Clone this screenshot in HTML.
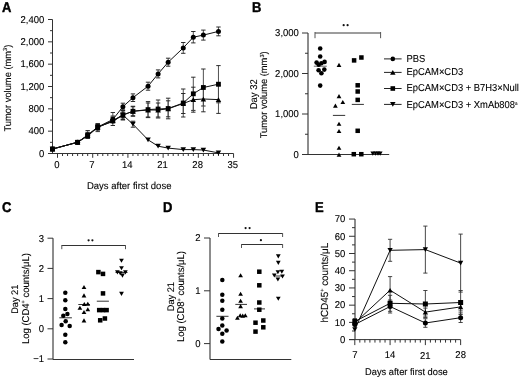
<!DOCTYPE html>
<html><head><meta charset="utf-8"><style>
html,body{margin:0;padding:0;background:#fff;}
body{width:520px;height:377px;overflow:hidden;}
svg{display:block;will-change:transform;font-family:"Liberation Sans",sans-serif;fill:#000;}
text{stroke:#000;stroke-width:0.1px;text-rendering:geometricPrecision;}
</style></head><body>
<svg width="520" height="377" viewBox="0 0 520 377">
<rect width="520" height="377" fill="#fff"/>
<text transform="translate(2,11.8) scale(1,1.09)" text-anchor="start" font-size="13" font-weight="bold" style="stroke-width:0.4px">A</text>
<line x1="52.5" y1="19.5" x2="52.5" y2="153.5" stroke="#333" stroke-width="1"/>
<line x1="48" y1="153.5" x2="52.5" y2="153.5" stroke="#333" stroke-width="1"/>
<text transform="translate(44.3,156.8) scale(1,1.04)" text-anchor="end" font-size="9.5" font-weight="normal" >0</text>
<line x1="50" y1="142.33333333333334" x2="52.5" y2="142.33333333333334" stroke="#333" stroke-width="1"/>
<line x1="48" y1="131.16666666666666" x2="52.5" y2="131.16666666666666" stroke="#333" stroke-width="1"/>
<text transform="translate(44.3,134.46666666666667) scale(1,1.04)" text-anchor="end" font-size="9.5" font-weight="normal" >400</text>
<line x1="50" y1="120.0" x2="52.5" y2="120.0" stroke="#333" stroke-width="1"/>
<line x1="48" y1="108.83333333333334" x2="52.5" y2="108.83333333333334" stroke="#333" stroke-width="1"/>
<text transform="translate(44.3,112.13333333333334) scale(1,1.04)" text-anchor="end" font-size="9.5" font-weight="normal" >800</text>
<line x1="50" y1="97.66666666666666" x2="52.5" y2="97.66666666666666" stroke="#333" stroke-width="1"/>
<line x1="48" y1="86.5" x2="52.5" y2="86.5" stroke="#333" stroke-width="1"/>
<text transform="translate(44.3,89.8) scale(1,1.04)" text-anchor="end" font-size="9.5" font-weight="normal" >1,200</text>
<line x1="50" y1="75.33333333333333" x2="52.5" y2="75.33333333333333" stroke="#333" stroke-width="1"/>
<line x1="48" y1="64.16666666666667" x2="52.5" y2="64.16666666666667" stroke="#333" stroke-width="1"/>
<text transform="translate(44.3,67.46666666666667) scale(1,1.04)" text-anchor="end" font-size="9.5" font-weight="normal" >1,600</text>
<line x1="50" y1="53.0" x2="52.5" y2="53.0" stroke="#333" stroke-width="1"/>
<line x1="48" y1="41.83333333333333" x2="52.5" y2="41.83333333333333" stroke="#333" stroke-width="1"/>
<text transform="translate(44.3,45.133333333333326) scale(1,1.04)" text-anchor="end" font-size="9.5" font-weight="normal" >2,000</text>
<line x1="50" y1="30.66666666666667" x2="52.5" y2="30.66666666666667" stroke="#333" stroke-width="1"/>
<line x1="48" y1="19.5" x2="52.5" y2="19.5" stroke="#333" stroke-width="1"/>
<text transform="translate(44.3,22.8) scale(1,1.04)" text-anchor="end" font-size="9.5" font-weight="normal" >2,400</text>
<line x1="48" y1="153.5" x2="233.55" y2="153.5" stroke="#333" stroke-width="1"/>
<line x1="57.5" y1="153.5" x2="57.5" y2="157.8" stroke="#333" stroke-width="1"/>
<text transform="translate(56.8,168.4) scale(1,1.04)" text-anchor="middle" font-size="9.5" font-weight="normal" >0</text>
<line x1="62.53" y1="153.5" x2="62.53" y2="156.0" stroke="#333" stroke-width="1"/>
<line x1="67.56" y1="153.5" x2="67.56" y2="156.0" stroke="#333" stroke-width="1"/>
<line x1="72.59" y1="153.5" x2="72.59" y2="156.0" stroke="#333" stroke-width="1"/>
<line x1="77.62" y1="153.5" x2="77.62" y2="156.0" stroke="#333" stroke-width="1"/>
<line x1="82.65" y1="153.5" x2="82.65" y2="156.0" stroke="#333" stroke-width="1"/>
<line x1="87.68" y1="153.5" x2="87.68" y2="156.0" stroke="#333" stroke-width="1"/>
<line x1="92.71000000000001" y1="153.5" x2="92.71000000000001" y2="157.8" stroke="#333" stroke-width="1"/>
<text transform="translate(92.01,168.4) scale(1,1.04)" text-anchor="middle" font-size="9.5" font-weight="normal" >7</text>
<line x1="97.74000000000001" y1="153.5" x2="97.74000000000001" y2="156.0" stroke="#333" stroke-width="1"/>
<line x1="102.77000000000001" y1="153.5" x2="102.77000000000001" y2="156.0" stroke="#333" stroke-width="1"/>
<line x1="107.80000000000001" y1="153.5" x2="107.80000000000001" y2="156.0" stroke="#333" stroke-width="1"/>
<line x1="112.83000000000001" y1="153.5" x2="112.83000000000001" y2="156.0" stroke="#333" stroke-width="1"/>
<line x1="117.86" y1="153.5" x2="117.86" y2="156.0" stroke="#333" stroke-width="1"/>
<line x1="122.89" y1="153.5" x2="122.89" y2="156.0" stroke="#333" stroke-width="1"/>
<line x1="127.92" y1="153.5" x2="127.92" y2="157.8" stroke="#333" stroke-width="1"/>
<text transform="translate(127.22,168.4) scale(1,1.04)" text-anchor="middle" font-size="9.5" font-weight="normal" >14</text>
<line x1="132.95" y1="153.5" x2="132.95" y2="156.0" stroke="#333" stroke-width="1"/>
<line x1="137.98000000000002" y1="153.5" x2="137.98000000000002" y2="156.0" stroke="#333" stroke-width="1"/>
<line x1="143.01" y1="153.5" x2="143.01" y2="156.0" stroke="#333" stroke-width="1"/>
<line x1="148.04000000000002" y1="153.5" x2="148.04000000000002" y2="156.0" stroke="#333" stroke-width="1"/>
<line x1="153.07" y1="153.5" x2="153.07" y2="156.0" stroke="#333" stroke-width="1"/>
<line x1="158.10000000000002" y1="153.5" x2="158.10000000000002" y2="156.0" stroke="#333" stroke-width="1"/>
<line x1="163.13" y1="153.5" x2="163.13" y2="157.8" stroke="#333" stroke-width="1"/>
<text transform="translate(162.43,168.4) scale(1,1.04)" text-anchor="middle" font-size="9.5" font-weight="normal" >21</text>
<line x1="168.16000000000003" y1="153.5" x2="168.16000000000003" y2="156.0" stroke="#333" stroke-width="1"/>
<line x1="173.19" y1="153.5" x2="173.19" y2="156.0" stroke="#333" stroke-width="1"/>
<line x1="178.22" y1="153.5" x2="178.22" y2="156.0" stroke="#333" stroke-width="1"/>
<line x1="183.25" y1="153.5" x2="183.25" y2="156.0" stroke="#333" stroke-width="1"/>
<line x1="188.28" y1="153.5" x2="188.28" y2="156.0" stroke="#333" stroke-width="1"/>
<line x1="193.31" y1="153.5" x2="193.31" y2="156.0" stroke="#333" stroke-width="1"/>
<line x1="198.34" y1="153.5" x2="198.34" y2="157.8" stroke="#333" stroke-width="1"/>
<text transform="translate(197.64000000000001,168.4) scale(1,1.04)" text-anchor="middle" font-size="9.5" font-weight="normal" >28</text>
<line x1="203.37" y1="153.5" x2="203.37" y2="156.0" stroke="#333" stroke-width="1"/>
<line x1="208.4" y1="153.5" x2="208.4" y2="156.0" stroke="#333" stroke-width="1"/>
<line x1="213.43" y1="153.5" x2="213.43" y2="156.0" stroke="#333" stroke-width="1"/>
<line x1="218.46" y1="153.5" x2="218.46" y2="156.0" stroke="#333" stroke-width="1"/>
<line x1="223.49" y1="153.5" x2="223.49" y2="156.0" stroke="#333" stroke-width="1"/>
<line x1="228.52" y1="153.5" x2="228.52" y2="156.0" stroke="#333" stroke-width="1"/>
<line x1="233.55" y1="153.5" x2="233.55" y2="157.8" stroke="#333" stroke-width="1"/>
<text transform="translate(232.85000000000002,168.4) scale(1,1.04)" text-anchor="middle" font-size="9.5" font-weight="normal" >35</text>
<text transform="translate(129.2,189.4) scale(1,1.04)" text-anchor="middle" font-size="9.5" font-weight="normal" >Days after first dose</text>
<text transform="translate(10.6,88.1) rotate(-90) scale(1,1.04)" text-anchor="middle" font-size="9.35">Tumor volume (mm<tspan font-size="5.6" dy="-3">3</tspan><tspan dy="3">)</tspan></text>
<line x1="112.83000000000001" y1="117.0" x2="112.83000000000001" y2="122.0" stroke="#484848" stroke-width="0.95"/>
<line x1="110.63000000000001" y1="117.0" x2="115.03000000000002" y2="117.0" stroke="#222" stroke-width="0.95"/>
<line x1="110.63000000000001" y1="122.0" x2="115.03000000000002" y2="122.0" stroke="#222" stroke-width="0.95"/>
<line x1="122.89" y1="103.2" x2="122.89" y2="110.2" stroke="#484848" stroke-width="0.95"/>
<line x1="120.69" y1="103.2" x2="125.09" y2="103.2" stroke="#222" stroke-width="0.95"/>
<line x1="120.69" y1="110.2" x2="125.09" y2="110.2" stroke="#222" stroke-width="0.95"/>
<line x1="132.95" y1="93.9" x2="132.95" y2="101.5" stroke="#484848" stroke-width="0.95"/>
<line x1="130.75" y1="93.9" x2="135.14999999999998" y2="93.9" stroke="#222" stroke-width="0.95"/>
<line x1="130.75" y1="101.5" x2="135.14999999999998" y2="101.5" stroke="#222" stroke-width="0.95"/>
<line x1="148.04000000000002" y1="82.2" x2="148.04000000000002" y2="90.2" stroke="#484848" stroke-width="0.95"/>
<line x1="145.84000000000003" y1="82.2" x2="150.24" y2="82.2" stroke="#222" stroke-width="0.95"/>
<line x1="145.84000000000003" y1="90.2" x2="150.24" y2="90.2" stroke="#222" stroke-width="0.95"/>
<line x1="158.10000000000002" y1="69.9" x2="158.10000000000002" y2="77.9" stroke="#484848" stroke-width="0.95"/>
<line x1="155.90000000000003" y1="69.9" x2="160.3" y2="69.9" stroke="#222" stroke-width="0.95"/>
<line x1="155.90000000000003" y1="77.9" x2="160.3" y2="77.9" stroke="#222" stroke-width="0.95"/>
<line x1="168.16000000000003" y1="58.2" x2="168.16000000000003" y2="66.2" stroke="#484848" stroke-width="0.95"/>
<line x1="165.96000000000004" y1="58.2" x2="170.36" y2="58.2" stroke="#222" stroke-width="0.95"/>
<line x1="165.96000000000004" y1="66.2" x2="170.36" y2="66.2" stroke="#222" stroke-width="0.95"/>
<line x1="183.25" y1="42.5" x2="183.25" y2="53.3" stroke="#484848" stroke-width="0.95"/>
<line x1="181.05" y1="42.5" x2="185.45" y2="42.5" stroke="#222" stroke-width="0.95"/>
<line x1="181.05" y1="53.3" x2="185.45" y2="53.3" stroke="#222" stroke-width="0.95"/>
<line x1="193.31" y1="31.500000000000004" x2="193.31" y2="42.900000000000006" stroke="#484848" stroke-width="0.95"/>
<line x1="191.11" y1="31.500000000000004" x2="195.51" y2="31.500000000000004" stroke="#222" stroke-width="0.95"/>
<line x1="191.11" y1="42.900000000000006" x2="195.51" y2="42.900000000000006" stroke="#222" stroke-width="0.95"/>
<line x1="203.37" y1="30.1" x2="203.37" y2="40.1" stroke="#484848" stroke-width="0.95"/>
<line x1="201.17000000000002" y1="30.1" x2="205.57" y2="30.1" stroke="#222" stroke-width="0.95"/>
<line x1="201.17000000000002" y1="40.1" x2="205.57" y2="40.1" stroke="#222" stroke-width="0.95"/>
<line x1="218.46" y1="27.0" x2="218.46" y2="35.8" stroke="#484848" stroke-width="0.95"/>
<line x1="216.26000000000002" y1="27.0" x2="220.66" y2="27.0" stroke="#222" stroke-width="0.95"/>
<line x1="216.26000000000002" y1="35.8" x2="220.66" y2="35.8" stroke="#222" stroke-width="0.95"/>
<line x1="87.68" y1="130.5" x2="87.68" y2="138.0" stroke="#484848" stroke-width="0.95"/>
<line x1="85.48" y1="130.5" x2="89.88000000000001" y2="130.5" stroke="#2a2a2a" stroke-width="0.95"/>
<line x1="97.74000000000001" y1="123.5" x2="97.74000000000001" y2="131.6" stroke="#484848" stroke-width="0.95"/>
<line x1="95.54" y1="123.5" x2="99.94000000000001" y2="123.5" stroke="#2a2a2a" stroke-width="0.95"/>
<line x1="95.54" y1="131.6" x2="99.94000000000001" y2="131.6" stroke="#2a2a2a" stroke-width="0.95"/>
<line x1="112.83000000000001" y1="116.0" x2="112.83000000000001" y2="123.0" stroke="#484848" stroke-width="0.95"/>
<line x1="110.63000000000001" y1="116.0" x2="115.03000000000002" y2="116.0" stroke="#2a2a2a" stroke-width="0.95"/>
<line x1="122.89" y1="110" x2="122.89" y2="120" stroke="#484848" stroke-width="0.95"/>
<line x1="120.69" y1="110" x2="125.09" y2="110" stroke="#222" stroke-width="0.95"/>
<line x1="120.69" y1="120" x2="125.09" y2="120" stroke="#222" stroke-width="0.95"/>
<line x1="132.95" y1="106.25" x2="132.95" y2="116.25" stroke="#484848" stroke-width="0.95"/>
<line x1="130.75" y1="106.25" x2="135.14999999999998" y2="106.25" stroke="#222" stroke-width="0.95"/>
<line x1="130.75" y1="116.25" x2="135.14999999999998" y2="116.25" stroke="#222" stroke-width="0.95"/>
<line x1="148.04000000000002" y1="101.6" x2="148.04000000000002" y2="117.6" stroke="#484848" stroke-width="0.95"/>
<line x1="145.84000000000003" y1="101.6" x2="150.24" y2="101.6" stroke="#222" stroke-width="0.95"/>
<line x1="145.84000000000003" y1="117.6" x2="150.24" y2="117.6" stroke="#222" stroke-width="0.95"/>
<line x1="158.10000000000002" y1="100" x2="158.10000000000002" y2="118" stroke="#484848" stroke-width="0.95"/>
<line x1="155.90000000000003" y1="100" x2="160.3" y2="100" stroke="#222" stroke-width="0.95"/>
<line x1="155.90000000000003" y1="118" x2="160.3" y2="118" stroke="#222" stroke-width="0.95"/>
<line x1="168.16000000000003" y1="98.2" x2="168.16000000000003" y2="118.8" stroke="#484848" stroke-width="0.95"/>
<line x1="165.96000000000004" y1="98.2" x2="170.36" y2="98.2" stroke="#222" stroke-width="0.95"/>
<line x1="165.96000000000004" y1="118.8" x2="170.36" y2="118.8" stroke="#222" stroke-width="0.95"/>
<line x1="183.25" y1="89" x2="183.25" y2="117" stroke="#484848" stroke-width="0.95"/>
<line x1="181.05" y1="89" x2="185.45" y2="89" stroke="#222" stroke-width="0.95"/>
<line x1="181.05" y1="117" x2="185.45" y2="117" stroke="#222" stroke-width="0.95"/>
<line x1="193.31" y1="77.19999999999999" x2="193.31" y2="110.4" stroke="#484848" stroke-width="0.95"/>
<line x1="191.11" y1="77.19999999999999" x2="195.51" y2="77.19999999999999" stroke="#222" stroke-width="0.95"/>
<line x1="191.11" y1="110.4" x2="195.51" y2="110.4" stroke="#222" stroke-width="0.95"/>
<line x1="203.37" y1="69.0" x2="203.37" y2="106.0" stroke="#484848" stroke-width="0.95"/>
<line x1="201.17000000000002" y1="69.0" x2="205.57" y2="69.0" stroke="#222" stroke-width="0.95"/>
<line x1="201.17000000000002" y1="106.0" x2="205.57" y2="106.0" stroke="#222" stroke-width="0.95"/>
<line x1="218.46" y1="65.6" x2="218.46" y2="102.80000000000001" stroke="#484848" stroke-width="0.95"/>
<line x1="216.26000000000002" y1="65.6" x2="220.66" y2="65.6" stroke="#222" stroke-width="0.95"/>
<line x1="216.26000000000002" y1="102.80000000000001" x2="220.66" y2="102.80000000000001" stroke="#222" stroke-width="0.95"/>
<line x1="87.68" y1="132.3" x2="87.68" y2="138.3" stroke="#484848" stroke-width="0.95"/>
<line x1="85.48" y1="132.3" x2="89.88000000000001" y2="132.3" stroke="#222" stroke-width="0.95"/>
<line x1="85.48" y1="138.3" x2="89.88000000000001" y2="138.3" stroke="#222" stroke-width="0.95"/>
<line x1="97.74000000000001" y1="124.2" x2="97.74000000000001" y2="130.2" stroke="#484848" stroke-width="0.95"/>
<line x1="95.54" y1="124.2" x2="99.94000000000001" y2="124.2" stroke="#222" stroke-width="0.95"/>
<line x1="95.54" y1="130.2" x2="99.94000000000001" y2="130.2" stroke="#222" stroke-width="0.95"/>
<line x1="112.83000000000001" y1="112.5" x2="112.83000000000001" y2="122.5" stroke="#484848" stroke-width="0.95"/>
<line x1="110.63000000000001" y1="112.5" x2="115.03000000000002" y2="112.5" stroke="#2a2a2a" stroke-width="0.95"/>
<line x1="122.89" y1="110.5" x2="122.89" y2="119.5" stroke="#484848" stroke-width="0.95"/>
<line x1="120.69" y1="110.5" x2="125.09" y2="110.5" stroke="#222" stroke-width="0.95"/>
<line x1="120.69" y1="119.5" x2="125.09" y2="119.5" stroke="#222" stroke-width="0.95"/>
<line x1="132.95" y1="106.75" x2="132.95" y2="115.75" stroke="#484848" stroke-width="0.95"/>
<line x1="130.75" y1="106.75" x2="135.14999999999998" y2="106.75" stroke="#222" stroke-width="0.95"/>
<line x1="130.75" y1="115.75" x2="135.14999999999998" y2="115.75" stroke="#222" stroke-width="0.95"/>
<line x1="148.04000000000002" y1="103" x2="148.04000000000002" y2="117" stroke="#484848" stroke-width="0.95"/>
<line x1="145.84000000000003" y1="103" x2="150.24" y2="103" stroke="#222" stroke-width="0.95"/>
<line x1="145.84000000000003" y1="117" x2="150.24" y2="117" stroke="#222" stroke-width="0.95"/>
<line x1="158.10000000000002" y1="103" x2="158.10000000000002" y2="117" stroke="#484848" stroke-width="0.95"/>
<line x1="155.90000000000003" y1="103" x2="160.3" y2="103" stroke="#222" stroke-width="0.95"/>
<line x1="155.90000000000003" y1="117" x2="160.3" y2="117" stroke="#222" stroke-width="0.95"/>
<line x1="168.16000000000003" y1="100.8" x2="168.16000000000003" y2="116.8" stroke="#484848" stroke-width="0.95"/>
<line x1="165.96000000000004" y1="100.8" x2="170.36" y2="100.8" stroke="#222" stroke-width="0.95"/>
<line x1="165.96000000000004" y1="116.8" x2="170.36" y2="116.8" stroke="#222" stroke-width="0.95"/>
<line x1="183.25" y1="93.5" x2="183.25" y2="113.5" stroke="#484848" stroke-width="0.95"/>
<line x1="181.05" y1="93.5" x2="185.45" y2="93.5" stroke="#222" stroke-width="0.95"/>
<line x1="181.05" y1="113.5" x2="185.45" y2="113.5" stroke="#222" stroke-width="0.95"/>
<line x1="193.31" y1="87.2" x2="193.31" y2="112.2" stroke="#484848" stroke-width="0.95"/>
<line x1="191.11" y1="87.2" x2="195.51" y2="87.2" stroke="#222" stroke-width="0.95"/>
<line x1="191.11" y1="112.2" x2="195.51" y2="112.2" stroke="#222" stroke-width="0.95"/>
<line x1="203.37" y1="86.2" x2="203.37" y2="111.8" stroke="#484848" stroke-width="0.95"/>
<line x1="201.17000000000002" y1="86.2" x2="205.57" y2="86.2" stroke="#222" stroke-width="0.95"/>
<line x1="201.17000000000002" y1="111.8" x2="205.57" y2="111.8" stroke="#222" stroke-width="0.95"/>
<line x1="218.46" y1="85.8" x2="218.46" y2="113.39999999999999" stroke="#484848" stroke-width="0.95"/>
<line x1="216.26000000000002" y1="85.8" x2="220.66" y2="85.8" stroke="#222" stroke-width="0.95"/>
<line x1="216.26000000000002" y1="113.39999999999999" x2="220.66" y2="113.39999999999999" stroke="#222" stroke-width="0.95"/>
<line x1="87.68" y1="133.0" x2="87.68" y2="138.0" stroke="#484848" stroke-width="0.95"/>
<line x1="85.48" y1="133.0" x2="89.88000000000001" y2="133.0" stroke="#222" stroke-width="0.95"/>
<line x1="85.48" y1="138.0" x2="89.88000000000001" y2="138.0" stroke="#222" stroke-width="0.95"/>
<line x1="97.74000000000001" y1="124.5" x2="97.74000000000001" y2="129.5" stroke="#484848" stroke-width="0.95"/>
<line x1="95.54" y1="124.5" x2="99.94000000000001" y2="124.5" stroke="#222" stroke-width="0.95"/>
<line x1="95.54" y1="129.5" x2="99.94000000000001" y2="129.5" stroke="#222" stroke-width="0.95"/>
<line x1="112.83000000000001" y1="117.5" x2="112.83000000000001" y2="125.5" stroke="#484848" stroke-width="0.95"/>
<line x1="110.63000000000001" y1="117.5" x2="115.03000000000002" y2="117.5" stroke="#222" stroke-width="0.95"/>
<line x1="110.63000000000001" y1="125.5" x2="115.03000000000002" y2="125.5" stroke="#222" stroke-width="0.95"/>
<line x1="122.89" y1="112" x2="122.89" y2="118" stroke="#484848" stroke-width="0.95"/>
<line x1="120.69" y1="112" x2="125.09" y2="112" stroke="#222" stroke-width="0.95"/>
<line x1="120.69" y1="118" x2="125.09" y2="118" stroke="#222" stroke-width="0.95"/>
<line x1="132.95" y1="121.2" x2="132.95" y2="127.2" stroke="#484848" stroke-width="0.95"/>
<line x1="130.75" y1="121.2" x2="135.14999999999998" y2="121.2" stroke="#222" stroke-width="0.95"/>
<line x1="130.75" y1="127.2" x2="135.14999999999998" y2="127.2" stroke="#222" stroke-width="0.95"/>
<polyline points="52.47,149.00 77.62,142.25 87.68,135.50 97.74,127.00 112.83,121.50 122.89,115.00 132.95,124.20 148.04,139.80 158.10,146.20 168.16,148.10 183.25,149.60 193.31,149.60 203.37,150.00 218.46,152.90" fill="none" stroke="#111" stroke-width="1.0"/>
<polyline points="52.47,149.00 77.62,142.25 87.68,135.30 97.74,127.20 112.83,120.50 122.89,115.00 132.95,111.25 148.04,110.00 158.10,110.00 168.16,108.80 183.25,103.50 193.31,99.70 203.37,99.00 218.46,99.60" fill="none" stroke="#111" stroke-width="1.0"/>
<polyline points="52.47,149.00 77.62,142.25 87.68,136.00 97.74,127.30 112.83,121.00 122.89,115.00 132.95,111.25 148.04,109.60 158.10,109.00 168.16,108.50 183.25,103.00 193.31,93.80 203.37,87.50 218.46,84.20" fill="none" stroke="#111" stroke-width="1.0"/>
<polyline points="52.47,149.00 77.62,142.25 87.68,135.00 97.74,127.00 112.83,119.50 122.89,106.70 132.95,97.70 148.04,86.20 158.10,73.90 168.16,62.20 183.25,47.90 193.31,37.20 203.37,35.10 218.46,31.40" fill="none" stroke="#111" stroke-width="1.0"/>
<polygon points="52.47,151.375 55.22,146.625 49.72,146.625" fill="#000"/>
<polygon points="77.62,144.625 80.37,139.875 74.87,139.875" fill="#000"/>
<polygon points="87.68,137.875 90.43,133.125 84.93,133.125" fill="#000"/>
<polygon points="97.74000000000001,129.375 100.49000000000001,124.625 94.99000000000001,124.625" fill="#000"/>
<polygon points="112.83000000000001,123.875 115.58000000000001,119.125 110.08000000000001,119.125" fill="#000"/>
<polygon points="122.89,117.375 125.64,112.625 120.14,112.625" fill="#000"/>
<polygon points="132.95,126.575 135.7,121.825 130.2,121.825" fill="#000"/>
<polygon points="148.04000000000002,142.175 150.79000000000002,137.425 145.29000000000002,137.425" fill="#000"/>
<polygon points="158.10000000000002,148.575 160.85000000000002,143.825 155.35000000000002,143.825" fill="#000"/>
<polygon points="168.16000000000003,150.475 170.91000000000003,145.725 165.41000000000003,145.725" fill="#000"/>
<polygon points="183.25,151.975 186.0,147.225 180.5,147.225" fill="#000"/>
<polygon points="193.31,151.975 196.06,147.225 190.56,147.225" fill="#000"/>
<polygon points="203.37,152.375 206.12,147.625 200.62,147.625" fill="#000"/>
<polygon points="218.46,155.275 221.21,150.525 215.71,150.525" fill="#000"/>
<polygon points="52.47,146.625 55.22,151.375 49.72,151.375" fill="#000"/>
<polygon points="77.62,139.875 80.37,144.625 74.87,144.625" fill="#000"/>
<polygon points="87.68,132.925 90.43,137.675 84.93,137.675" fill="#000"/>
<polygon points="97.74000000000001,124.825 100.49000000000001,129.575 94.99000000000001,129.575" fill="#000"/>
<polygon points="112.83000000000001,118.125 115.58000000000001,122.875 110.08000000000001,122.875" fill="#000"/>
<polygon points="122.89,112.625 125.64,117.375 120.14,117.375" fill="#000"/>
<polygon points="132.95,108.875 135.7,113.625 130.2,113.625" fill="#000"/>
<polygon points="148.04000000000002,107.625 150.79000000000002,112.375 145.29000000000002,112.375" fill="#000"/>
<polygon points="158.10000000000002,107.625 160.85000000000002,112.375 155.35000000000002,112.375" fill="#000"/>
<polygon points="168.16000000000003,106.425 170.91000000000003,111.175 165.41000000000003,111.175" fill="#000"/>
<polygon points="183.25,101.125 186.0,105.875 180.5,105.875" fill="#000"/>
<polygon points="193.31,97.325 196.06,102.075 190.56,102.075" fill="#000"/>
<polygon points="203.37,96.625 206.12,101.375 200.62,101.375" fill="#000"/>
<polygon points="218.46,97.225 221.21,101.975 215.71,101.975" fill="#000"/>
<rect x="50.07" y="146.6" width="4.8" height="4.8" fill="#000"/>
<rect x="75.22" y="139.85" width="4.8" height="4.8" fill="#000"/>
<rect x="85.28" y="133.6" width="4.8" height="4.8" fill="#000"/>
<rect x="95.34" y="124.89999999999999" width="4.8" height="4.8" fill="#000"/>
<rect x="110.43" y="118.6" width="4.8" height="4.8" fill="#000"/>
<rect x="120.49" y="112.6" width="4.8" height="4.8" fill="#000"/>
<rect x="130.54999999999998" y="108.85" width="4.8" height="4.8" fill="#000"/>
<rect x="145.64000000000001" y="107.19999999999999" width="4.8" height="4.8" fill="#000"/>
<rect x="155.70000000000002" y="106.6" width="4.8" height="4.8" fill="#000"/>
<rect x="165.76000000000002" y="106.1" width="4.8" height="4.8" fill="#000"/>
<rect x="180.85" y="100.6" width="4.8" height="4.8" fill="#000"/>
<rect x="190.91" y="91.39999999999999" width="4.8" height="4.8" fill="#000"/>
<rect x="200.97" y="85.1" width="4.8" height="4.8" fill="#000"/>
<rect x="216.06" y="81.8" width="4.8" height="4.8" fill="#000"/>
<circle cx="52.47" cy="149" r="2.5" fill="#000"/>
<circle cx="77.62" cy="142.25" r="2.5" fill="#000"/>
<circle cx="87.68" cy="135.0" r="2.5" fill="#000"/>
<circle cx="97.74000000000001" cy="127.0" r="2.5" fill="#000"/>
<circle cx="112.83000000000001" cy="119.5" r="2.5" fill="#000"/>
<circle cx="122.89" cy="106.7" r="2.5" fill="#000"/>
<circle cx="132.95" cy="97.7" r="2.5" fill="#000"/>
<circle cx="148.04000000000002" cy="86.2" r="2.5" fill="#000"/>
<circle cx="158.10000000000002" cy="73.9" r="2.5" fill="#000"/>
<circle cx="168.16000000000003" cy="62.2" r="2.5" fill="#000"/>
<circle cx="183.25" cy="47.9" r="2.5" fill="#000"/>
<circle cx="193.31" cy="37.2" r="2.5" fill="#000"/>
<circle cx="203.37" cy="35.1" r="2.5" fill="#000"/>
<circle cx="218.46" cy="31.4" r="2.5" fill="#000"/>
<text transform="translate(252,11.6) scale(1,1.09)" text-anchor="start" font-size="13" font-weight="bold" style="stroke-width:0.4px">B</text>
<line x1="308" y1="33.0" x2="308" y2="154.5" stroke="#1a1a1a" stroke-width="1"/>
<line x1="302" y1="154.5" x2="308" y2="154.5" stroke="#333" stroke-width="1"/>
<text transform="translate(298.9,157.8) scale(1,1.04)" text-anchor="end" font-size="9.5" font-weight="normal" >0</text>
<line x1="305" y1="134.25" x2="308" y2="134.25" stroke="#333" stroke-width="1"/>
<line x1="302" y1="114.0" x2="308" y2="114.0" stroke="#333" stroke-width="1"/>
<text transform="translate(298.9,117.3) scale(1,1.04)" text-anchor="end" font-size="9.5" font-weight="normal" >1,000</text>
<line x1="305" y1="93.75" x2="308" y2="93.75" stroke="#333" stroke-width="1"/>
<line x1="302" y1="73.5" x2="308" y2="73.5" stroke="#333" stroke-width="1"/>
<text transform="translate(298.9,76.8) scale(1,1.04)" text-anchor="end" font-size="9.5" font-weight="normal" >2,000</text>
<line x1="305" y1="53.25" x2="308" y2="53.25" stroke="#333" stroke-width="1"/>
<line x1="302" y1="33.0" x2="308" y2="33.0" stroke="#333" stroke-width="1"/>
<text transform="translate(298.9,36.3) scale(1,1.04)" text-anchor="end" font-size="9.5" font-weight="normal" >3,000</text>
<line x1="308" y1="154.5" x2="389.2" y2="154.5" stroke="#333" stroke-width="1"/>
<line x1="315" y1="33" x2="380.6" y2="33" stroke="#3a3a3a" stroke-width="1"/>
<line x1="315" y1="32" x2="315" y2="38.2" stroke="#555" stroke-width="1"/>
<line x1="380.6" y1="32" x2="380.6" y2="38.2" stroke="#555" stroke-width="1"/>
<circle cx="343.65" cy="25.2" r="1.1" fill="#111"/>
<circle cx="347.6" cy="25.2" r="1.1" fill="#111"/>
<text transform="translate(256.9,94.3) rotate(-90) scale(1,1.04)" text-anchor="middle" font-size="9.5">Day 32</text>
<text transform="translate(267.3,94.8) rotate(-90) scale(1,1.04)" text-anchor="middle" font-size="9.35">Tumor volume (mm<tspan font-size="5.6" dy="-3">3</tspan><tspan dy="3">)</tspan></text>
<line x1="313.8" y1="66.2" x2="326.8" y2="66.2" stroke="#666" stroke-width="1"/>
<line x1="332.9" y1="115.4" x2="345.2" y2="115.4" stroke="#333" stroke-width="1"/>
<line x1="351.8" y1="104.4" x2="363.9" y2="104.4" stroke="#333" stroke-width="1"/>
<circle cx="320.2" cy="48.5" r="2.3" fill="#000"/>
<circle cx="320.2" cy="56.5" r="2.3" fill="#000"/>
<circle cx="316.6" cy="62.6" r="2.3" fill="#000"/>
<circle cx="318.7" cy="64.8" r="2.3" fill="#000"/>
<circle cx="321.4" cy="63.3" r="2.3" fill="#000"/>
<circle cx="324.6" cy="61.9" r="2.3" fill="#000"/>
<circle cx="318.6" cy="70.2" r="2.3" fill="#000"/>
<circle cx="324.3" cy="69.6" r="2.3" fill="#000"/>
<circle cx="321.4" cy="73.3" r="2.3" fill="#000"/>
<circle cx="320.2" cy="85.6" r="2.3" fill="#000"/>
<polygon points="339,62.85750000000001 341.365,66.94250000000001 336.635,66.94250000000001" fill="#000"/>
<polygon points="339,94.05749999999999 341.365,98.1425 336.635,98.1425" fill="#000"/>
<polygon points="342.8,99.9575 345.165,104.0425 340.435,104.0425" fill="#000"/>
<polygon points="335.4,103.55749999999999 337.765,107.6425 333.03499999999997,107.6425" fill="#000"/>
<polygon points="339,121.6575 341.365,125.7425 336.635,125.7425" fill="#000"/>
<polygon points="339,128.9575 341.365,133.0425 336.635,133.0425" fill="#000"/>
<polygon points="339,145.75750000000002 341.365,149.8425 336.635,149.8425" fill="#000"/>
<polygon points="339,152.5575 341.365,156.64249999999998 336.635,156.64249999999998" fill="#000"/>
<rect x="351.85" y="58.15" width="4.5" height="4.5" fill="#000"/>
<rect x="359.15" y="55.25" width="4.5" height="4.5" fill="#000"/>
<rect x="355.45" y="83.05" width="4.5" height="4.5" fill="#000"/>
<rect x="355.45" y="89.25" width="4.5" height="4.5" fill="#000"/>
<rect x="355.45" y="97.65" width="4.5" height="4.5" fill="#000"/>
<rect x="355.45" y="128.55" width="4.5" height="4.5" fill="#000"/>
<rect x="351.55" y="151.95" width="4.5" height="4.5" fill="#000"/>
<rect x="359.05" y="151.95" width="4.5" height="4.5" fill="#000"/>
<polygon points="372.8,155.64249999999998 375.165,151.5575 370.435,151.5575" fill="#000"/>
<polygon points="375.5,155.64249999999998 377.865,151.5575 373.135,151.5575" fill="#000"/>
<polygon points="378,155.64249999999998 380.365,151.5575 375.635,151.5575" fill="#000"/>
<polygon points="380.2,155.64249999999998 382.565,151.5575 377.835,151.5575" fill="#000"/>
<line x1="384" y1="58.9" x2="401.6" y2="58.9" stroke="#222" stroke-width="1"/>
<circle cx="392.8" cy="58.9" r="2.3" fill="#000"/>
<text transform="translate(406.6,62.3) scale(1,1.07)" text-anchor="start" font-size="9.4" font-weight="normal" >PBS</text>
<line x1="384" y1="72.4" x2="401.6" y2="72.4" stroke="#222" stroke-width="1"/>
<polygon points="392.8,70.025 395.55,74.775 390.05,74.775" fill="#000"/>
<text transform="translate(406.6,75.4) scale(1,1.07)" text-anchor="start" font-size="9.4" font-weight="normal" >EpCAM×CD3</text>
<line x1="384" y1="88.5" x2="401.6" y2="88.5" stroke="#222" stroke-width="1"/>
<rect x="390.5" y="86.2" width="4.6" height="4.6" fill="#000"/>
<text transform="translate(406.6,91.2) scale(1,1.07)" text-anchor="start" font-size="9.4" font-weight="normal" >EpCAM×CD3 + B7H3×Null</text>
<line x1="384" y1="104.4" x2="401.6" y2="104.4" stroke="#222" stroke-width="1"/>
<polygon points="392.8,106.775 395.55,102.025 390.05,102.025" fill="#000"/>
<text transform="translate(406.6,108.2) scale(1,1.07)" text-anchor="start" font-size="9.4" font-weight="normal" >EpCAM×CD3 + XmAb808<tspan font-size="4.5" dy="-3">a</tspan></text>
<text transform="translate(2,211.6) scale(1,1.09)" text-anchor="start" font-size="13" font-weight="bold" style="stroke-width:0.4px">C</text>
<line x1="53" y1="238.20000000000002" x2="53" y2="359.5" stroke="#1a1a1a" stroke-width="1"/>
<line x1="47.5" y1="238.20000000000002" x2="53" y2="238.20000000000002" stroke="#333" stroke-width="1"/>
<text transform="translate(44,241.50000000000003) scale(1,1.04)" text-anchor="end" font-size="9.5" font-weight="normal" >3</text>
<line x1="47.5" y1="268.40000000000003" x2="53" y2="268.40000000000003" stroke="#333" stroke-width="1"/>
<text transform="translate(44,271.70000000000005) scale(1,1.04)" text-anchor="end" font-size="9.5" font-weight="normal" >2</text>
<line x1="47.5" y1="298.6" x2="53" y2="298.6" stroke="#333" stroke-width="1"/>
<text transform="translate(44,301.90000000000003) scale(1,1.04)" text-anchor="end" font-size="9.5" font-weight="normal" >1</text>
<line x1="47.5" y1="328.8" x2="53" y2="328.8" stroke="#333" stroke-width="1"/>
<text transform="translate(44,332.1) scale(1,1.04)" text-anchor="end" font-size="9.5" font-weight="normal" >0</text>
<line x1="47.5" y1="359.0" x2="53" y2="359.0" stroke="#333" stroke-width="1"/>
<text transform="translate(44,362.3) scale(1,1.04)" text-anchor="end" font-size="9.5" font-weight="normal" >−1</text>
<line x1="53" y1="359.5" x2="134" y2="359.5" stroke="#333" stroke-width="1"/>
<line x1="61.8" y1="245.5" x2="125.5" y2="245.5" stroke="#333" stroke-width="1"/>
<line x1="61.8" y1="245" x2="61.8" y2="249.2" stroke="#555" stroke-width="1"/>
<line x1="125.5" y1="245" x2="125.5" y2="249.2" stroke="#555" stroke-width="1"/>
<circle cx="88.6" cy="240.3" r="1.1" fill="#111"/>
<circle cx="92.4" cy="240.3" r="1.1" fill="#111"/>
<text transform="translate(17.8,299.3) rotate(-90) scale(1,1.04)" text-anchor="middle" font-size="9.2">Day 21</text>
<text transform="translate(28.9,298.5) rotate(-90) scale(1,1.04)" text-anchor="middle" font-size="9.5">Log (CD4<tspan font-size="5.5" dy="-3.5">+</tspan><tspan dy="3.5"> counts/μL)</tspan></text>
<line x1="59.3" y1="317.8" x2="71.9" y2="317.8" stroke="#333" stroke-width="1"/>
<line x1="78.3" y1="304.5" x2="90" y2="304.5" stroke="#333" stroke-width="1"/>
<line x1="96.8" y1="301.2" x2="108.9" y2="301.2" stroke="#333" stroke-width="1"/>
<line x1="115.5" y1="272.5" x2="127.5" y2="272.5" stroke="#333" stroke-width="1"/>
<circle cx="65.3" cy="292.8" r="2.25" fill="#000"/>
<circle cx="65.3" cy="300.2" r="2.25" fill="#000"/>
<circle cx="65.3" cy="309.1" r="2.25" fill="#000"/>
<circle cx="63.3" cy="315.7" r="2.25" fill="#000"/>
<circle cx="67.4" cy="314" r="2.25" fill="#000"/>
<circle cx="65.7" cy="321.2" r="2.25" fill="#000"/>
<circle cx="61.6" cy="325" r="2.25" fill="#000"/>
<circle cx="69.7" cy="326" r="2.25" fill="#000"/>
<circle cx="65.3" cy="334.7" r="2.25" fill="#000"/>
<circle cx="65.3" cy="342.2" r="2.25" fill="#000"/>
<polygon points="84,284.9575 86.365,289.0425 81.635,289.0425" fill="#000"/>
<polygon points="84,293.35749999999996 86.365,297.4425 81.635,297.4425" fill="#000"/>
<polygon points="84.3,301.9575 86.66499999999999,306.0425 81.935,306.0425" fill="#000"/>
<polygon points="87.8,301.65749999999997 90.16499999999999,305.7425 85.435,305.7425" fill="#000"/>
<polygon points="79.9,305.65749999999997 82.265,309.7425 77.53500000000001,309.7425" fill="#000"/>
<polygon points="87.8,307.2575 90.16499999999999,311.34250000000003 85.435,311.34250000000003" fill="#000"/>
<polygon points="84,309.9575 86.365,314.0425 81.635,314.0425" fill="#000"/>
<polygon points="84,318.35749999999996 86.365,322.4425 81.635,322.4425" fill="#000"/>
<rect x="96.15" y="269.85" width="4.5" height="4.5" fill="#000"/>
<rect x="100.75" y="271.65" width="4.5" height="4.5" fill="#000"/>
<rect x="100.75" y="291.15" width="4.5" height="4.5" fill="#000"/>
<rect x="96.95" y="307.85" width="4.5" height="4.5" fill="#000"/>
<rect x="100.75" y="307.85" width="4.5" height="4.5" fill="#000"/>
<rect x="104.35" y="307.85" width="4.5" height="4.5" fill="#000"/>
<rect x="97.95" y="318.05" width="4.5" height="4.5" fill="#000"/>
<rect x="102.65" y="316.25" width="4.5" height="4.5" fill="#000"/>
<polygon points="121.5,262.84250000000003 123.865,258.7575 119.135,258.7575" fill="#000"/>
<polygon points="121.5,270.34250000000003 123.865,266.2575 119.135,266.2575" fill="#000"/>
<polygon points="117.4,274.4425 119.765,270.35749999999996 115.03500000000001,270.35749999999996" fill="#000"/>
<polygon points="125.4,274.4425 127.765,270.35749999999996 123.03500000000001,270.35749999999996" fill="#000"/>
<polygon points="120.3,275.4425 122.66499999999999,271.35749999999996 117.935,271.35749999999996" fill="#000"/>
<polygon points="122.5,277.64250000000004 124.865,273.5575 120.135,273.5575" fill="#000"/>
<polygon points="121.5,295.9425 123.865,291.85749999999996 119.135,291.85749999999996" fill="#000"/>
<text transform="translate(163,212.0) scale(1,1.09)" text-anchor="start" font-size="13" font-weight="bold" style="stroke-width:0.4px">D</text>
<line x1="210" y1="238.00000000000003" x2="210" y2="359.5" stroke="#1a1a1a" stroke-width="1"/>
<line x1="204" y1="238.00000000000003" x2="210" y2="238.00000000000003" stroke="#333" stroke-width="1"/>
<text transform="translate(200.5,241.30000000000004) scale(1,1.04)" text-anchor="end" font-size="9.5" font-weight="normal" >2</text>
<line x1="204" y1="290.8" x2="210" y2="290.8" stroke="#333" stroke-width="1"/>
<text transform="translate(200.5,294.1) scale(1,1.04)" text-anchor="end" font-size="9.5" font-weight="normal" >1</text>
<line x1="204" y1="343.6" x2="210" y2="343.6" stroke="#333" stroke-width="1"/>
<text transform="translate(200.5,346.90000000000003) scale(1,1.04)" text-anchor="end" font-size="9.5" font-weight="normal" >0</text>
<line x1="210" y1="359.5" x2="291.3" y2="359.5" stroke="#333" stroke-width="1"/>
<line x1="218.5" y1="233.5" x2="282.6" y2="233.5" stroke="#333" stroke-width="1"/>
<line x1="218.5" y1="233" x2="218.5" y2="237" stroke="#555" stroke-width="1"/>
<line x1="282.6" y1="233" x2="282.6" y2="237" stroke="#555" stroke-width="1"/>
<line x1="241.5" y1="244.5" x2="282.6" y2="244.5" stroke="#333" stroke-width="1"/>
<line x1="241.5" y1="244" x2="241.5" y2="248" stroke="#555" stroke-width="1"/>
<line x1="282.6" y1="244" x2="282.6" y2="248" stroke="#555" stroke-width="1"/>
<circle cx="245.6" cy="228.1" r="1.1" fill="#111"/>
<circle cx="249.6" cy="228.1" r="1.1" fill="#111"/>
<circle cx="260.9" cy="240.2" r="1.1" fill="#111"/>
<text transform="translate(174.3,296.6) rotate(-90) scale(1,1.04)" text-anchor="middle" font-size="9.2">Day 21</text>
<text transform="translate(184.2,296.5) rotate(-90) scale(1,1.04)" text-anchor="middle" font-size="9.5">Log (CD8<tspan font-size="5.5" dy="-3.5">+</tspan><tspan dy="3.5"> counts/μL)</tspan></text>
<line x1="216.4" y1="316.3" x2="228.5" y2="316.3" stroke="#333" stroke-width="1"/>
<line x1="235.3" y1="304.4" x2="247" y2="304.4" stroke="#333" stroke-width="1"/>
<line x1="254" y1="308.9" x2="265" y2="308.9" stroke="#333" stroke-width="1"/>
<line x1="274.5" y1="276" x2="282.5" y2="276" stroke="#333" stroke-width="1"/>
<circle cx="222.3" cy="280" r="2.25" fill="#000"/>
<circle cx="222.3" cy="294.8" r="2.25" fill="#000"/>
<circle cx="222.3" cy="300.8" r="2.25" fill="#000"/>
<circle cx="222.3" cy="309.7" r="2.25" fill="#000"/>
<circle cx="222.3" cy="318.4" r="2.25" fill="#000"/>
<circle cx="222.3" cy="325.6" r="2.25" fill="#000"/>
<circle cx="218.5" cy="329" r="2.25" fill="#000"/>
<circle cx="226.6" cy="330.5" r="2.25" fill="#000"/>
<circle cx="222.3" cy="333.7" r="2.25" fill="#000"/>
<circle cx="222.3" cy="341.5" r="2.25" fill="#000"/>
<polygon points="240.6,273.2575 242.965,277.34250000000003 238.23499999999999,277.34250000000003" fill="#000"/>
<polygon points="240.6,291.7575 242.965,295.84250000000003 238.23499999999999,295.84250000000003" fill="#000"/>
<polygon points="240.6,298.7575 242.965,302.84250000000003 238.23499999999999,302.84250000000003" fill="#000"/>
<polygon points="240.6,304.0575 242.965,308.14250000000004 238.23499999999999,308.14250000000004" fill="#000"/>
<polygon points="237.4,315.7575 239.76500000000001,319.84250000000003 235.035,319.84250000000003" fill="#000"/>
<polygon points="240.2,313.15749999999997 242.565,317.2425 237.83499999999998,317.2425" fill="#000"/>
<polygon points="242.7,313.5575 245.065,317.64250000000004 240.33499999999998,317.64250000000004" fill="#000"/>
<polygon points="245.3,313.15749999999997 247.66500000000002,317.2425 242.935,317.2425" fill="#000"/>
<rect x="257.05" y="269.45" width="4.5" height="4.5" fill="#000"/>
<rect x="257.05" y="283.05" width="4.5" height="4.5" fill="#000"/>
<rect x="257.05" y="300.25" width="4.5" height="4.5" fill="#000"/>
<rect x="257.05" y="307.45" width="4.5" height="4.5" fill="#000"/>
<rect x="253.25" y="320.45" width="4.5" height="4.5" fill="#000"/>
<rect x="261.05" y="318.25" width="4.5" height="4.5" fill="#000"/>
<rect x="261.05" y="325.05" width="4.5" height="4.5" fill="#000"/>
<rect x="253.25" y="329.35" width="4.5" height="4.5" fill="#000"/>
<polygon points="278.3,258.4425 280.665,254.3575 275.935,254.3575" fill="#000"/>
<polygon points="278.3,264.9425 280.665,260.85749999999996 275.935,260.85749999999996" fill="#000"/>
<polygon points="277.9,274.34250000000003 280.265,270.2575 275.53499999999997,270.2575" fill="#000"/>
<polygon points="281.8,273.7425 284.165,269.65749999999997 279.435,269.65749999999997" fill="#000"/>
<polygon points="274.3,277.5425 276.665,273.4575 271.935,273.4575" fill="#000"/>
<polygon points="282.5,278.5425 284.865,274.4575 280.135,274.4575" fill="#000"/>
<polygon points="277.9,281.5425 280.265,277.4575 275.53499999999997,277.4575" fill="#000"/>
<polygon points="278.3,300.84250000000003 280.665,296.7575 275.935,296.7575" fill="#000"/>
<text transform="translate(315,212.0) scale(1,1.09)" text-anchor="start" font-size="13" font-weight="bold" style="stroke-width:0.4px">E</text>
<line x1="355" y1="219.06000000000003" x2="355" y2="339.6" stroke="#1a1a1a" stroke-width="1"/>
<line x1="349" y1="339.6" x2="355" y2="339.6" stroke="#333" stroke-width="1"/>
<text transform="translate(345.3,342.90000000000003) scale(1,1.04)" text-anchor="end" font-size="9.5" font-weight="normal" >0</text>
<line x1="352" y1="330.99" x2="355" y2="330.99" stroke="#333" stroke-width="1"/>
<line x1="349" y1="322.38" x2="355" y2="322.38" stroke="#333" stroke-width="1"/>
<text transform="translate(345.3,325.68) scale(1,1.04)" text-anchor="end" font-size="9.5" font-weight="normal" >10</text>
<line x1="352" y1="313.77000000000004" x2="355" y2="313.77000000000004" stroke="#333" stroke-width="1"/>
<line x1="349" y1="305.16" x2="355" y2="305.16" stroke="#333" stroke-width="1"/>
<text transform="translate(345.3,308.46000000000004) scale(1,1.04)" text-anchor="end" font-size="9.5" font-weight="normal" >20</text>
<line x1="352" y1="296.55" x2="355" y2="296.55" stroke="#333" stroke-width="1"/>
<line x1="349" y1="287.94000000000005" x2="355" y2="287.94000000000005" stroke="#333" stroke-width="1"/>
<text transform="translate(345.3,291.24000000000007) scale(1,1.04)" text-anchor="end" font-size="9.5" font-weight="normal" >30</text>
<line x1="352" y1="279.33000000000004" x2="355" y2="279.33000000000004" stroke="#333" stroke-width="1"/>
<line x1="349" y1="270.72" x2="355" y2="270.72" stroke="#333" stroke-width="1"/>
<text transform="translate(345.3,274.02000000000004) scale(1,1.04)" text-anchor="end" font-size="9.5" font-weight="normal" >40</text>
<line x1="352" y1="262.11" x2="355" y2="262.11" stroke="#333" stroke-width="1"/>
<line x1="349" y1="253.50000000000003" x2="355" y2="253.50000000000003" stroke="#333" stroke-width="1"/>
<text transform="translate(345.3,256.8) scale(1,1.04)" text-anchor="end" font-size="9.5" font-weight="normal" >50</text>
<line x1="352" y1="244.89000000000004" x2="355" y2="244.89000000000004" stroke="#333" stroke-width="1"/>
<line x1="349" y1="236.28000000000003" x2="355" y2="236.28000000000003" stroke="#333" stroke-width="1"/>
<text transform="translate(345.3,239.58000000000004) scale(1,1.04)" text-anchor="end" font-size="9.5" font-weight="normal" >60</text>
<line x1="352" y1="227.67000000000002" x2="355" y2="227.67000000000002" stroke="#333" stroke-width="1"/>
<line x1="349" y1="219.06000000000003" x2="355" y2="219.06000000000003" stroke="#333" stroke-width="1"/>
<text transform="translate(345.3,222.36000000000004) scale(1,1.04)" text-anchor="end" font-size="9.5" font-weight="normal" >70</text>
<line x1="349" y1="339.6" x2="460.64" y2="339.6" stroke="#333" stroke-width="1"/>
<line x1="354.8" y1="339.6" x2="354.8" y2="345.1" stroke="#333" stroke-width="1"/>
<text transform="translate(354.8,357.8) scale(1,1.04)" text-anchor="middle" font-size="9.5" font-weight="normal" >7</text>
<line x1="359.84000000000003" y1="339.6" x2="359.84000000000003" y2="342.6" stroke="#333" stroke-width="1"/>
<line x1="364.88" y1="339.6" x2="364.88" y2="342.6" stroke="#333" stroke-width="1"/>
<line x1="369.92" y1="339.6" x2="369.92" y2="342.6" stroke="#333" stroke-width="1"/>
<line x1="374.96000000000004" y1="339.6" x2="374.96000000000004" y2="342.6" stroke="#333" stroke-width="1"/>
<line x1="380.0" y1="339.6" x2="380.0" y2="342.6" stroke="#333" stroke-width="1"/>
<line x1="385.04" y1="339.6" x2="385.04" y2="342.6" stroke="#333" stroke-width="1"/>
<line x1="390.08000000000004" y1="339.6" x2="390.08000000000004" y2="345.1" stroke="#333" stroke-width="1"/>
<text transform="translate(390.08000000000004,357.8) scale(1,1.04)" text-anchor="middle" font-size="9.5" font-weight="normal" >14</text>
<line x1="395.12" y1="339.6" x2="395.12" y2="342.6" stroke="#333" stroke-width="1"/>
<line x1="400.16" y1="339.6" x2="400.16" y2="342.6" stroke="#333" stroke-width="1"/>
<line x1="405.2" y1="339.6" x2="405.2" y2="342.6" stroke="#333" stroke-width="1"/>
<line x1="410.24" y1="339.6" x2="410.24" y2="342.6" stroke="#333" stroke-width="1"/>
<line x1="415.28000000000003" y1="339.6" x2="415.28000000000003" y2="342.6" stroke="#333" stroke-width="1"/>
<line x1="420.32" y1="339.6" x2="420.32" y2="342.6" stroke="#333" stroke-width="1"/>
<line x1="425.36" y1="339.6" x2="425.36" y2="345.1" stroke="#333" stroke-width="1"/>
<text transform="translate(425.36,358.7) scale(1,1.04)" text-anchor="middle" font-size="9.5" font-weight="normal" >21</text>
<line x1="430.4" y1="339.6" x2="430.4" y2="342.6" stroke="#333" stroke-width="1"/>
<line x1="435.44" y1="339.6" x2="435.44" y2="342.6" stroke="#333" stroke-width="1"/>
<line x1="440.48" y1="339.6" x2="440.48" y2="342.6" stroke="#333" stroke-width="1"/>
<line x1="445.52" y1="339.6" x2="445.52" y2="342.6" stroke="#333" stroke-width="1"/>
<line x1="450.56" y1="339.6" x2="450.56" y2="342.6" stroke="#333" stroke-width="1"/>
<line x1="455.6" y1="339.6" x2="455.6" y2="342.6" stroke="#333" stroke-width="1"/>
<line x1="460.64" y1="339.6" x2="460.64" y2="345.1" stroke="#333" stroke-width="1"/>
<text transform="translate(460.64,357.8) scale(1,1.04)" text-anchor="middle" font-size="9.5" font-weight="normal" >28</text>
<text transform="translate(406.4,374.5) scale(1,1.04)" text-anchor="middle" font-size="9.3" font-weight="normal" >Days after first dose</text>
<text transform="translate(327.8,282.7) rotate(-90) scale(1,1.04)" text-anchor="middle" font-size="9.9">hCD45<tspan font-size="5.5" dy="-3.5">+</tspan><tspan dy="3.5"> counts/μL</tspan></text>
<line x1="390.08000000000004" y1="239.3" x2="390.08000000000004" y2="261.3" stroke="#333" stroke-width="0.9"/>
<line x1="387.98" y1="239.3" x2="392.18000000000006" y2="239.3" stroke="#333" stroke-width="0.9"/>
<line x1="387.98" y1="261.3" x2="392.18000000000006" y2="261.3" stroke="#333" stroke-width="0.9"/>
<line x1="425.36" y1="226.1" x2="425.36" y2="273.1" stroke="#333" stroke-width="0.9"/>
<line x1="423.26" y1="226.1" x2="427.46000000000004" y2="226.1" stroke="#333" stroke-width="0.9"/>
<line x1="423.26" y1="273.1" x2="427.46000000000004" y2="273.1" stroke="#333" stroke-width="0.9"/>
<line x1="460.64" y1="234.10000000000002" x2="460.64" y2="292.1" stroke="#333" stroke-width="0.9"/>
<line x1="458.53999999999996" y1="234.10000000000002" x2="462.74" y2="234.10000000000002" stroke="#333" stroke-width="0.9"/>
<line x1="458.53999999999996" y1="292.1" x2="462.74" y2="292.1" stroke="#333" stroke-width="0.9"/>
<line x1="390.08000000000004" y1="276.59999999999997" x2="390.08000000000004" y2="303.8" stroke="#333" stroke-width="0.9"/>
<line x1="387.98" y1="276.59999999999997" x2="392.18000000000006" y2="276.59999999999997" stroke="#333" stroke-width="0.9"/>
<line x1="387.98" y1="303.8" x2="392.18000000000006" y2="303.8" stroke="#333" stroke-width="0.9"/>
<line x1="425.36" y1="308.1" x2="425.36" y2="316.1" stroke="#333" stroke-width="0.9"/>
<line x1="423.26" y1="308.1" x2="427.46000000000004" y2="308.1" stroke="#333" stroke-width="0.9"/>
<line x1="423.26" y1="316.1" x2="427.46000000000004" y2="316.1" stroke="#333" stroke-width="0.9"/>
<line x1="460.64" y1="302.9" x2="460.64" y2="310.9" stroke="#333" stroke-width="0.9"/>
<line x1="458.53999999999996" y1="302.9" x2="462.74" y2="302.9" stroke="#333" stroke-width="0.9"/>
<line x1="458.53999999999996" y1="310.9" x2="462.74" y2="310.9" stroke="#333" stroke-width="0.9"/>
<line x1="354.8" y1="318.5" x2="354.8" y2="324.5" stroke="#333" stroke-width="0.9"/>
<line x1="352.7" y1="318.5" x2="356.90000000000003" y2="318.5" stroke="#333" stroke-width="0.9"/>
<line x1="352.7" y1="324.5" x2="356.90000000000003" y2="324.5" stroke="#333" stroke-width="0.9"/>
<line x1="390.08000000000004" y1="295.3" x2="390.08000000000004" y2="311.3" stroke="#333" stroke-width="0.9"/>
<line x1="387.98" y1="295.3" x2="392.18000000000006" y2="295.3" stroke="#333" stroke-width="0.9"/>
<line x1="387.98" y1="311.3" x2="392.18000000000006" y2="311.3" stroke="#333" stroke-width="0.9"/>
<line x1="425.36" y1="290.5" x2="425.36" y2="317.5" stroke="#333" stroke-width="0.9"/>
<line x1="423.26" y1="290.5" x2="427.46000000000004" y2="290.5" stroke="#333" stroke-width="0.9"/>
<line x1="423.26" y1="317.5" x2="427.46000000000004" y2="317.5" stroke="#333" stroke-width="0.9"/>
<line x1="460.64" y1="290.5" x2="460.64" y2="314.5" stroke="#333" stroke-width="0.9"/>
<line x1="458.53999999999996" y1="290.5" x2="462.74" y2="290.5" stroke="#333" stroke-width="0.9"/>
<line x1="458.53999999999996" y1="314.5" x2="462.74" y2="314.5" stroke="#333" stroke-width="0.9"/>
<line x1="390.08000000000004" y1="300.0" x2="390.08000000000004" y2="313.0" stroke="#333" stroke-width="0.9"/>
<line x1="387.98" y1="300.0" x2="392.18000000000006" y2="300.0" stroke="#333" stroke-width="0.9"/>
<line x1="387.98" y1="313.0" x2="392.18000000000006" y2="313.0" stroke="#333" stroke-width="0.9"/>
<line x1="425.36" y1="318.7" x2="425.36" y2="327.3" stroke="#333" stroke-width="0.9"/>
<line x1="423.26" y1="318.7" x2="427.46000000000004" y2="318.7" stroke="#333" stroke-width="0.9"/>
<line x1="423.26" y1="327.3" x2="427.46000000000004" y2="327.3" stroke="#333" stroke-width="0.9"/>
<line x1="460.64" y1="312.9" x2="460.64" y2="322.5" stroke="#333" stroke-width="0.9"/>
<line x1="458.53999999999996" y1="312.9" x2="462.74" y2="312.9" stroke="#333" stroke-width="0.9"/>
<line x1="458.53999999999996" y1="322.5" x2="462.74" y2="322.5" stroke="#333" stroke-width="0.9"/>
<polyline points="354.80,329.50 390.08,250.30 425.36,249.60 460.64,263.10" fill="none" stroke="#111" stroke-width="1"/>
<polyline points="354.80,323.00 390.08,290.20 425.36,312.10 460.64,306.90" fill="none" stroke="#111" stroke-width="1"/>
<polyline points="354.80,321.50 390.08,303.30 425.36,304.00 460.64,302.50" fill="none" stroke="#111" stroke-width="1"/>
<polyline points="354.80,324.50 390.08,306.50 425.36,323.00 460.64,317.70" fill="none" stroke="#111" stroke-width="1"/>
<polygon points="354.8,331.78 357.44,327.22 352.16,327.22" fill="#000"/>
<polygon points="390.08000000000004,252.58 392.72,248.02 387.44000000000005,248.02" fill="#000"/>
<polygon points="425.36,251.88 428.0,247.32 422.72,247.32" fill="#000"/>
<polygon points="460.64,265.38 463.28,260.82000000000005 458.0,260.82000000000005" fill="#000"/>
<polygon points="354.8,320.72 357.44,325.28 352.16,325.28" fill="#000"/>
<polygon points="390.08000000000004,287.92 392.72,292.47999999999996 387.44000000000005,292.47999999999996" fill="#000"/>
<polygon points="425.36,309.82000000000005 428.0,314.38 422.72,314.38" fill="#000"/>
<polygon points="460.64,304.62 463.28,309.17999999999995 458.0,309.17999999999995" fill="#000"/>
<rect x="352.3" y="319.0" width="5.0" height="5.0" fill="#000"/>
<rect x="387.58000000000004" y="300.8" width="5.0" height="5.0" fill="#000"/>
<rect x="422.86" y="301.5" width="5.0" height="5.0" fill="#000"/>
<rect x="458.14" y="300.0" width="5.0" height="5.0" fill="#000"/>
<circle cx="354.8" cy="324.5" r="2.5" fill="#000"/>
<circle cx="390.08000000000004" cy="306.5" r="2.5" fill="#000"/>
<circle cx="425.36" cy="323" r="2.5" fill="#000"/>
<circle cx="460.64" cy="317.7" r="2.5" fill="#000"/>
</svg>
</body></html>
